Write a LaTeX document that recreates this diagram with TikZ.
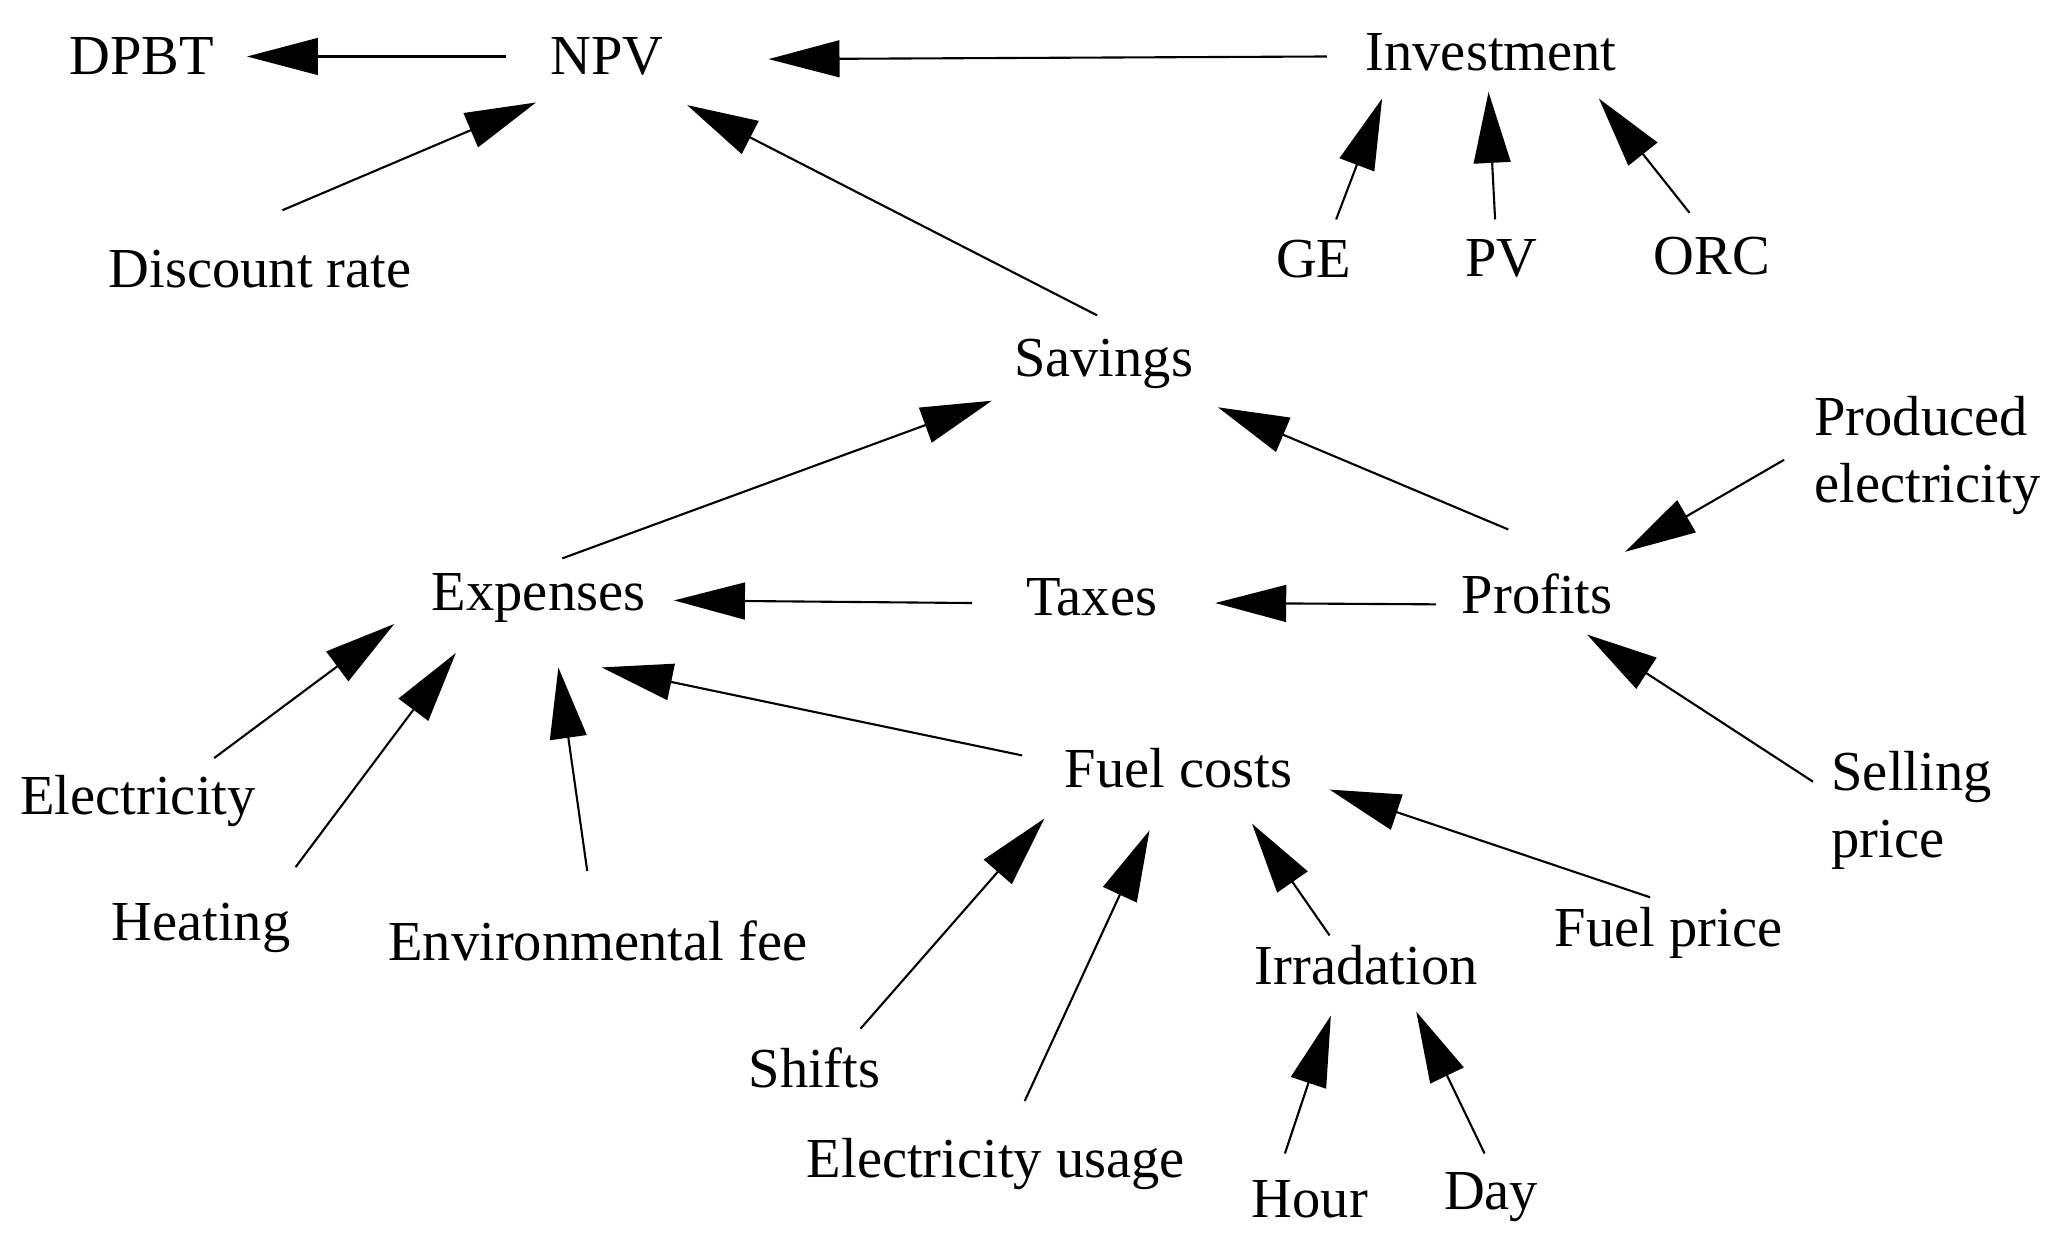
\documentclass[tikz,border=0pt]{standalone}
\usepackage{fontspec}
\setmainfont{Liberation Serif}
\usetikzlibrary{arrows.meta,calc}
\begin{document}
\begin{tikzpicture}[x=1pt,y=-1pt,
  lbl/.style={font=\fontsize{43}{51}\selectfont,inner sep=0pt,align=left},
  arr/.style={line width=1.6pt,-{Triangle[length=54pt,width=28pt]}}]
\useasboundingbox (0,0) rectangle (1568,950);
\node[lbl] (dpbt) at (108,43) {DPBT};
\node[lbl] (npv) at (462,43) {NPV};
\node[lbl] (inv) at (1135,40) {Investment};
\node[lbl] (disc) at (198,205) {Discount rate};
\node[lbl] (ge) at (1000,197) {GE};
\node[lbl] (pv) at (1143,197) {PV};
\node[lbl] (orc) at (1303,195) {ORC};
\node[lbl] (sav) at (840,277) {Savings};
\node[lbl] (prod) at (1467,347) {Produced\\electricity};
\node[lbl] (exp) at (410,455) {Expenses};
\node[lbl] (tax) at (831,455) {Taxes};
\node[lbl] (prof) at (1170,452) {Profits};
\node[lbl] (elec) at (105,610) {Electricity};
\node[lbl] (heat) at (153,706) {Heating};
\node[lbl] (env) at (455,716) {Environmental fee};
\node[lbl] (fuel) at (897,585) {Fuel costs};
\node[lbl] (sell) at (1455,617) {Selling\\price};
\node[lbl] (irr) at (1040,735) {Irradation};
\node[lbl] (fp) at (1270,710) {Fuel price};
\node[lbl] (shift) at (620,813) {Shifts};
\node[lbl] (eu) at (758,886) {Electricity usage};
\node[lbl] (hour) at (997,913) {Hour};
\node[lbl] (day) at (1135,911) {Day};
\draw[arr] ($(npv)+(385-462,0)$) -- ($(dpbt)+(188-108,0)$);
\draw[arr] ($(inv)+(1010-1135,3)$) -- ($(npv)+(585-462,2)$);
\draw[arr] ($(disc)+(215-198,160-205)$) -- ($(npv)+(408-462,78-43)$);
\draw[arr] ($(ge)+(1017-1000,167-197)$) -- ($(inv)+(1052-1135,75-40)$);
\draw[arr] ($(pv)+(1138-1143,167-197)$) -- ($(inv)+(1133-1135,70-40)$);
\draw[arr] ($(orc)+(1286-1303,162-195)$) -- ($(inv)+(1217-1135,75-40)$);
\draw[arr] ($(sav)+(835-840,240-277)$) -- ($(npv)+(523-462,80-43)$);
\draw[arr] ($(exp)+(428-410,425-455)$) -- ($(sav)+(755-840,305-277)$);
\draw[arr] ($(prof)+(1148-1170,403-452)$) -- ($(sav)+(927-840,310-277)$);
\draw[arr] ($(prod)+(1358-1467,350-347)$) -- ($(prof)+(1237-1170,420-452)$);
\draw[arr] ($(tax)+(740-831,459-455)$) -- ($(exp)+(513-410,457-455)$);
\draw[arr] ($(prof)+(1093-1170,460-452)$) -- ($(tax)+(925-831,459-455)$);
\draw[arr] ($(sell)+(1380-1455,595-617)$) -- ($(prof)+(1208-1170,483-452)$);
\draw[arr] ($(elec)+(163-105,577-610)$) -- ($(exp)+(300-410,475-455)$);
\draw[arr] ($(heat)+(225-153,660-706)$) -- ($(exp)+(347-410,497-455)$);
\draw[arr] ($(env)+(447-455,663-716)$) -- ($(exp)+(425-410,508-455)$);
\draw[arr] ($(fuel)+(778-897,575-585)$) -- ($(exp)+(458-410,508-455)$);
\draw[arr] ($(shift)+(655-620,783-813)$) -- ($(fuel)+(795-897,623-585)$);
\draw[arr] ($(eu)+(780-758,838-886)$) -- ($(fuel)+(875-897,632-585)$);
\draw[arr] ($(irr)+(1012-1040,712-735)$) -- ($(fuel)+(953-897,627-585)$);
\draw[arr] ($(fp)+(1256-1270,683-710)$) -- ($(fuel)+(1012-897,601-585)$);
\draw[arr] ($(hour)+(978-997,878-913)$) -- ($(irr)+(1013-1040,773-735)$);
\draw[arr] ($(day)+(1130-1135,878-911)$) -- ($(irr)+(1078-1040,770-735)$);
\end{tikzpicture}
\end{document}
